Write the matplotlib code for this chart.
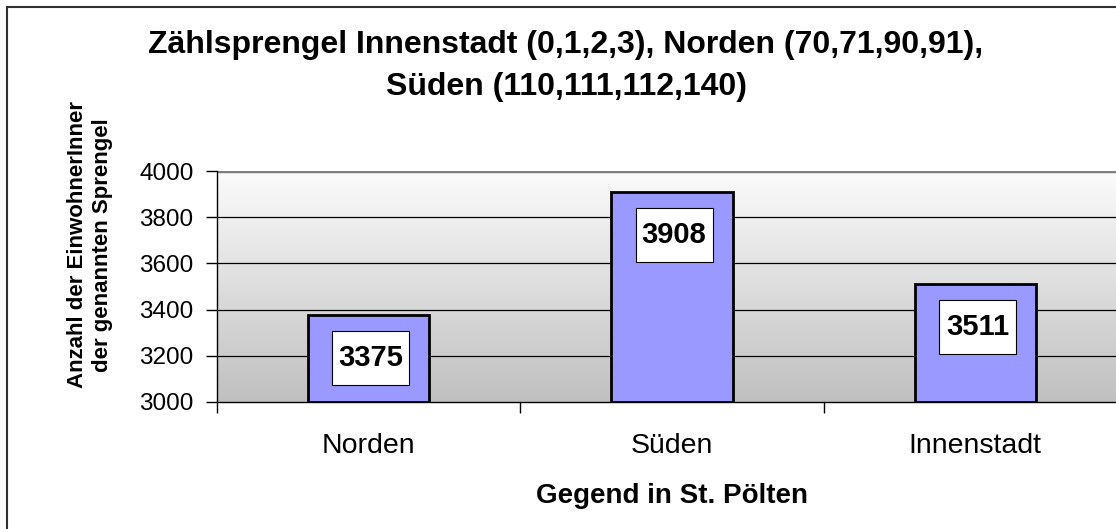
import numpy as np
import matplotlib
matplotlib.use("Agg")
import matplotlib.pyplot as plt
from matplotlib.patches import Rectangle

# data
regions = ["Norden", "Süden", "Innenstadt"]
residents = [3375, 3908, 3511]
y_ticks = [3000, 3200, 3400, 3600, 3800, 4000]

title = "Zählsprengel Innenstadt (0,1,2,3), Norden (70,71,90,91),\nSüden (110,111,112,140)"
ylab = "Anzahl der EinwohnerInner\nder genannten Sprengel"
xlab = "Gegend in St. Pölten"

plt.rcParams['font.family'] = ['Liberation Sans', 'DejaVu Sans']

W, H = 1116, 529
fig = plt.figure(figsize=(W / 100, H / 100), dpi=100)
fig.patch.set_facecolor("white")

# outer chart frame (runs off the right and bottom edge)
fig.add_artist(Rectangle((7 / W, -0.1), 1.2, 1 - 7 / H + 0.1, transform=fig.transFigure,
                         fill=False, edgecolor="#303030", linewidth=1.5))

# plot area, a bit wider than the image
left, right = 217, 1127
top, bottom = 171, 402
ax = fig.add_axes([left / W, 1 - bottom / H, (right - left) / W, (bottom - top) / H])

# grey gradient background
grad = np.linspace(0, 1, 256).reshape(-1, 1)
cmap = matplotlib.colors.LinearSegmentedColormap.from_list("bg", ["#fbfbfb", "#c0c0c0"])
ax.imshow(grad, extent=[-0.5, 2.5, 3000, 4000], aspect="auto", cmap=cmap, zorder=0)

x = np.arange(len(regions))
ax.bar(x, [r - 3000 for r in residents], bottom=3000, width=0.4,
       color="#9999ff", edgecolor="black", linewidth=2, zorder=3)

for yy in y_ticks[1:-1]:
    ax.axhline(yy, color="black", linewidth=0.9, zorder=1)

ax.set_xlim(-0.5, 2.5)
ax.set_ylim(3000, 4000)
ax.set_yticks(y_ticks)
ax.set_yticklabels([str(t) for t in y_ticks], fontsize=17.5)
ax.set_xticks([-0.5, 0.5, 1.5])
ax.set_xticklabels([])
ax.set_xticks(x, minor=True)
ax.set_xticklabels(regions, minor=True, fontsize=20.5)
ax.tick_params(axis="x", which="minor", length=0, pad=22)
ax.tick_params(axis="x", which="major", length=8, width=1, color="black")
ax.tick_params(axis="y", length=8, width=1, pad=9)

for s in ["top", "right"]:
    ax.spines[s].set_visible(False)
ax.spines["left"].set_linewidth(1)
ax.spines["bottom"].set_linewidth(1)
ax.axhline(4000, color="#808080", linewidth=2.5, zorder=2)

# value labels in white boxes, a little below each bar top
px_x = 3.0 / (right - left)      # data units per pixel, x
px_y = 1000.0 / (bottom - top)   # data units per pixel, y
box_w, box_h, drop, shift = 77, 54, 43, 2
for xi, v in zip(x, residents):
    cx = xi + shift * px_x
    cy = v - drop * px_y
    ax.add_patch(Rectangle((cx - box_w / 2 * px_x, cy - box_h / 2 * px_y),
                           box_w * px_x, box_h * px_y, facecolor="white",
                           edgecolor="black", linewidth=0.8, zorder=4))
    ax.text(cx, cy, str(v), ha="center", va="center", fontsize=21,
            fontweight="bold", zorder=5)

fig.text(566 / W, 1 - 66 / H, title, ha="center", va="center", fontsize=23,
         fontweight="bold", linespacing=1.5)
fig.text(90 / W, 1 - 245 / H, ylab, ha="center", va="center", rotation=90,
         fontsize=16, fontweight="bold", linespacing=1.3)
fig.text(672 / W, 1 - 496 / H, xlab, ha="center", va="center", fontsize=20,
         fontweight="bold")

fig.savefig("out.png", dpi=100)
